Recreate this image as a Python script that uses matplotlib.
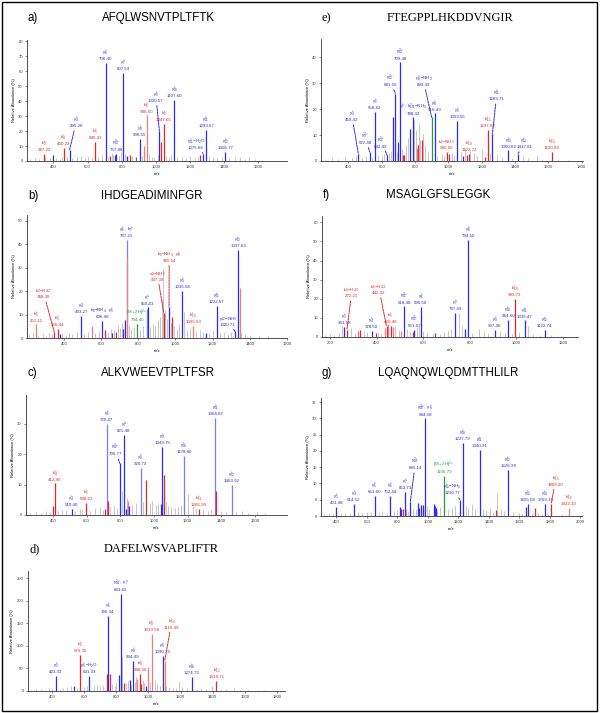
import matplotlib
matplotlib.use('Agg')
import matplotlib.pyplot as plt
from matplotlib.patches import Rectangle

plt.rcParams['font.family'] = ['Liberation Sans', 'DejaVu Sans']
plt.rcParams['mathtext.fontset'] = 'custom'
plt.rcParams['mathtext.rm'] = 'Liberation Sans'
plt.rcParams['mathtext.it'] = 'Liberation Sans'
plt.rcParams['mathtext.default'] = 'regular'

W, H = 600, 713

# ---------------- a) AFQLWSNVTPLTFTK
a_mz = [347.2, 400.0, 460.3, 495.3, 646.3, 706.4, 733.4, 760.0, 767.9, 807.5, 830.0, 847.4,
        883.0, 906.5, 932.0, 946.5, 1020.6, 1030.0, 1047.5, 1107.6, 1260.0, 1275.7, 1293.7, 1406.8]
a_int = [4.5, 3.8, 8.5, 7.6, 12.8, 65.6, 3.5, 4.0, 5.0, 59.0, 3.6, 4.2,
         2.7, 14.6, 10.0, 30.5, 20.0, 12.8, 25.0, 41.0, 4.3, 5.0, 21.0, 6.0]
a_ion = ['r', 'b', 'r', 'b', 'r', 'b', 'r', 'b', 'b', 'b', 'b', 'r',
         'g', 'b', 'R', 'R', 'b', 'r', 'r', 'b', 'r', 'b', 'b', 'b']
a_noise_mz = [265, 290, 318, 352, 378, 415, 438, 452, 480, 512, 540, 561, 583, 605, 628, 660, 684,
              722, 745, 752, 785, 795, 822, 858, 885, 920, 958, 975, 990, 1012, 1060, 1078, 1090,
              1125, 1150, 1175, 1200, 1228, 1247, 1310, 1335, 1360, 1385, 1430, 1460, 1490, 1520,
              1545, 1580, 1620]
a_noise_int = [1.5, 2.0, 1.2, 2.5, 1.8, 2.2, 1.6, 3.0, 2.4, 1.9, 2.6, 3.2, 2.1, 3.5, 2.8, 3.0, 4.2,
               2.7, 5.5, 4.0, 3.6, 6.0, 4.4, 3.1, 2.9, 3.4, 4.8, 3.0, 2.6, 3.9, 3.3, 2.5, 4.1,
               3.0, 2.7, 2.2, 3.5, 2.0, 2.8, 3.1, 2.4, 1.8, 2.6, 1.9, 2.2, 3.0, 1.6,
               2.4, 1.3, 1.0]
a_labels = {347.2: ('b_3^+', '347.22'), 460.3: ('b_4^+', '460.22'), 495.3: ('y_4^+', '495.28'),
            646.3: ('b_5^+', '646.33'), 706.4: ('y_6^+', '706.40'), 767.9: ('y_{13}^{2+}', '767.88'),
            807.5: ('y_7^+', '807.53'), 906.5: ('y_8^+', '906.55'), 946.5: ('b_8^+', '946.50'),
            1020.6: ('y_9^+', '1020.57'), 1047.5: ('b_9^+', '1047.65'), 1107.6: ('y_{10}^+', '1107.60'),
            1275.7: ('y_{11}^+{-}H_2O', '1275.66'), 1293.7: ('y_{11}^+', '1293.67'),
            1406.8: ('y_{12}^+', '1406.77')}
a_moved = {495.3: (535, 22), 1020.6: (1000, 38.8), 1275.7: (1235, 7.5)}
a_textcol = {}

# ---------------- b) IHDGEADIMINFGR
b_mz = [250.1, 348.2, 366.2, 378.0, 493.3, 552.2, 606.3, 623.3, 661.0, 680.0, 720.0, 728.0,
        737.4, 739.0, 794.4, 846.0, 850.5, 937.4, 965.5, 982.4, 1036.5, 1095.5, 1165.6, 1222.6,
        1320.6, 1337.6, 1345.0]
b_int = [5.8, 2.6, 4.0, 1.9, 9.3, 5.0, 7.3, 3.3, 2.1, 2.5, 4.0, 7.5,
         41.7, 34.3, 6.1, 12.5, 13.0, 10.7, 13.2, 9.0, 20.0, 5.3, 2.1, 13.5,
         2.8, 37.7, 21.5]
b_ion = ['R', 'r', 'r', 'b', 'b', 'R', 'b', 'r', 'b', 'r', 'b', 'b',
         'B', 'R', 'g', 'B', 'b', 'r', 'b', 'r', 'b', 'R', 'b', 'b',
         'b', 'b', 'R']
b_noise_mz = [215, 232, 262, 290, 305, 320, 335, 390, 410, 428, 445, 470, 510, 530, 570, 590, 640,
              652, 668, 690, 700, 712, 748, 760, 775, 812, 825, 862, 878, 892, 905, 918, 928, 934,
              945, 955, 975, 995, 1008, 1020, 1046, 1060, 1078, 1110, 1130, 1150, 1180, 1200, 1240,
              1260, 1285, 1300, 1355, 1375, 1400, 1450, 1500]
b_noise_int = [1.5, 2.0, 1.2, 1.8, 1.0, 2.2, 1.6, 2.0, 1.4, 2.3, 1.8, 2.5, 1.7, 2.6, 2.0, 3.1, 2.4,
               4.0, 3.2, 5.6, 4.4, 6.5, 5.5, 3.8, 4.6, 3.5, 5.0, 4.8, 6.0, 5.2, 7.5, 9.0, 16.0, 29.6,
               12.0, 8.0, 6.5, 5.2, 4.0, 5.8, 11.0, 3.5, 4.2, 2.8, 3.4, 2.6, 2.2, 3.0, 2.0,
               2.6, 1.8, 2.4, 2.0, 1.5, 1.2, 1.0, 0.8]
b_labels = {250.1: ('b_2^+', '251.11'), 348.2: ('b_3{-}H_2O', '348.30'), 366.2: ('b_3^+', '366.44'),
            493.3: ('y_4^+', '493.27'), 606.3: (r'b_6{-}NH_3,\ y_5^+', '606.46'),
            737.4: (r'y_6^+,\ b_7^+', '737.21'), 794.4: ('[M+2H]^{2+}', '794.40'),
            850.5: ('y_7^+', '850.43'), 937.4: ('a_9{-}NH_3', '937.39'),
            965.5: (r'b_9{-}NH_3,\ y_8^+', '965.54'), 1036.5: ('y_9^+', '1036.58'),
            1095.5: ('b_{10}^+', '1095.63'), 1222.6: ('y_{11}^+', '1222.57'),
            1320.6: ('y_{12}{-}NH_3', '1320.71'), 1337.6: ('y_{12}^+', '1337.63')}
b_moved = {348.2: (292, 16.5), 937.4: (904, 24), 965.5: (967, 32), 1320.6: (1282, 4.8)}
b_textcol = {965.5: 'r'}

# ---------------- c) ALKVWEEVTPLTFSR
c_mz = [400.0, 412.3, 510.3, 598.4, 710.0, 720.4, 727.4, 796.4, 821.5, 835.0, 845.0, 848.0,
        852.0, 920.5, 955.5, 1040.0, 1045.0, 1049.6, 1056.6, 1178.6, 1266.7, 1364.7, 1367.8, 1463.8]
c_int = [3.0, 10.4, 1.9, 4.0, 2.0, 30.0, 4.7, 17.0, 26.4, 2.0, 3.0, 4.5,
         3.0, 15.6, 11.5, 3.5, 3.5, 22.5, 13.2, 19.5, 1.9, 31.9, 8.0, 9.9]
c_ion = ['r', 'r', 'b', 'r', 'r', 'B', 'r', 'b', 'b', 'b', 'r', 'R',
         'b', 'B', 'r', 'b', 'b', 'b', 'r', 'B', 'r', 'B', 'r', 'B']
c_noise_mz = [265, 300, 330, 360, 385, 430, 455, 480, 530, 560, 575, 620, 650, 680, 700, 740, 760,
              780, 808, 840, 870, 895, 935, 975, 990, 1010, 1025, 1070, 1085, 1100, 1125, 1145,
              1160, 1205, 1230, 1250, 1290, 1320, 1340, 1362, 1400, 1430, 1490, 1520, 1560, 1610, 1660]
c_noise_int = [0.8, 1.0, 0.7, 1.2, 1.0, 1.3, 1.5, 1.8, 1.2, 2.0, 1.6, 1.4, 2.2, 2.5, 1.8, 2.6, 3.0,
               2.4, 8.0, 5.5, 3.4, 4.0, 4.2, 3.8, 4.5, 3.2, 3.6, 4.2, 3.0, 2.5, 2.2, 2.6,
               3.2, 7.0, 2.8, 2.0, 1.6, 1.4, 2.0, 22.0, 1.3, 1.0, 0.9, 1.2, 0.8, 1.0, 0.7]
c_labels = {412.3: ('b_4^+', '412.46'), 510.3: ('y_4^+', '510.40'), 598.4: ('b_5^+', '598.62'),
            720.4: ('y_6^+', '720.47'), 796.4: ('y_{13}^{2+}', '796.77'), 821.5: ('y_7^+', '821.48'),
            920.5: ('y_8^+', '920.73'), 1049.6: ('y_9^+', '1049.75'), 1178.6: ('y_{10}^+', '1178.80'),
            1266.7: ('b_{11}^+', '1266.90'), 1364.7: ('y_{11}^+', '1364.87'),
            1463.8: ('y_{12}^+', '1463.92')}
c_moved = {796.4: (770, 19.3)}
c_textcol = {}

# ---------------- d) DAFELWSVAPLIFTR
d_mz = [423.2, 536.3, 576.3, 631.4, 742.0, 746.5, 761.0, 817.5, 828.0, 849.0, 883.0, 904.0,
        931.0, 948.5, 955.0, 983.0, 998.0, 1019.5, 1088.0, 1101.0, 1271.0, 1423.0]
d_int = [34, 11, 80, 34, 38, 167, 38, 35.5, 215, 18.5, 24, 66.6,
         26.6, 38, 15, 11, 54, 126, 78, 66.6, 31, 22]
d_ion = ['b', 'b', 'r', 'b', 'r', 'b', 'r', 'b', 'b', 'r', 'b', 'b',
         'R', 'r', 'r', 'b', 'R', 'R', 'b', 'R', 'b', 'r']
d_noise_mz = [270, 300, 330, 355, 380, 400, 450, 470, 495, 515, 555, 600, 620, 660, 680, 700, 720,
              770, 790, 800, 836, 860, 870, 890, 915, 925, 965, 975, 1010, 1040, 1055, 1070, 1110,
              1130, 1150, 1170, 1190, 1210, 1240, 1300, 1330, 1360, 1395, 1450, 1480, 1530, 1570,
              1620, 1680, 1720]
d_noise_int = [3, 4, 5, 3, 6, 4, 5, 7, 8, 12, 6, 9, 12, 10, 13, 11, 14,
               16, 12, 20, 75, 18, 22, 14, 20, 30, 25, 18, 20, 24, 15, 12, 10,
               8, 6, 7, 22, 8, 6, 5, 7, 4, 10, 5, 4, 6, 3,
               2, 3, 2]
d_labels = {423.2: ('y_3^+', '423.33'), 576.3: ('b_5^+', '576.35'), 631.4: ('y_5^+{-}H_2O', '631.33'),
            746.5: ('y_6^+', '746.34'), 828.0: (r'y_{14}^{2+},\ y_7^+', '833.42'),
            904.0: ('y_8^+', '904.49'), 948.5: ('b_8^+', '948.50'), 1019.5: ('b_9^+', '1019.58'),
            1088.0: ('y_9^+', '1090.73'), 1101.0: ('b_{10}^+', '1116.49'),
            1271.0: ('y_{10}^+', '1274.73'), 1423.0: ('b_{12}^+', '1419.71')}
d_moved = {1101.0: (1143, 136)}
d_textcol = {}

# ---------------- e) FTEGPPLHKDDVNGIR
e_mz = [459.3, 527.3, 558.4, 632.3, 670.0, 681.0, 700.0, 709.4, 725.0, 735.0, 770.0, 788.4,
        810.0, 820.0, 840.0, 899.4, 916.5, 990.5, 1004.0, 1053.6, 1090.0, 1110.0, 1122.6,
        1220.0, 1237.6, 1263.7, 1360.7, 1417.8, 1620.8]
e_int = [2.8, 3.5, 19.0, 2.2, 16.8, 26.0, 7.3, 38.0, 2.5, 2.2, 12.5, 16.8,
         5.0, 6.0, 8.0, 16.8, 18.3, 3.5, 2.8, 15.4, 2.0, 2.5, 2.8,
         1.5, 11.9, 10.3, 4.1, 2.8, 3.5]
e_ion = ['b', 'b', 'b', 'b', 'b', 'b', 'b', 'b', 'r', 'r', 'b', 'b',
         'R', 'r', 'r', 'g', 'b', 'r', 'r', 'b', 'b', 'r', 'r',
         'r', 'r', 'b', 'b', 'b', 'r']
e_noise_mz = [260, 300, 340, 380, 420, 445, 480, 505, 540, 575, 600, 615, 645, 655, 690, 720, 745,
              760, 795, 805, 825, 832, 848, 860, 875, 930, 960, 975, 1020, 1035, 1075, 1100, 1130,
              1155, 1170, 1200, 1250, 1290, 1320, 1380, 1450, 1480, 1530, 1560, 1660, 1720]
e_noise_int = [0.8, 1.2, 0.9, 1.5, 1.1, 1.8, 1.3, 2.0, 1.6, 2.2, 1.8, 2.6, 3.0, 4.0, 3.5, 4.5, 6.0,
               9.0, 15.7, 12.0, 14.5, 8.0, 10.5, 6.0, 3.5, 2.0, 2.8, 1.8, 3.0, 2.4, 4.0, 5.0, 4.2,
               3.2, 2.0, 4.5, 3.0, 2.2, 1.6, 1.2, 1.8, 1.0, 2.4, 0.8, 0.6, 0.5]
e_labels = {459.3: ('y_4^+', '459.42'), 527.3: ('y_9^{2+}', '527.48'), 558.4: ('y_5^+', '558.42'),
            632.3: ('y_{11}^{2+}', '632.49'), 681.0: ('y_{12}^{2+}', '681.50'),
            709.4: ('y_{13}^{2+}', '709.48'), 788.4: (r'y_7^+,\ b_{14}^{2+}{-}NH_3', '788.32'),
            899.4: ('y_8^+{-}NH_3', '899.39'), 916.5: ('y_8^+', '916.49'),
            990.5: ('b_9{-}NH_3', '990.65'), 1053.6: ('y_9^+', '1053.55'),
            1122.6: ('b_{10}^+', '1122.72'), 1237.6: ('b_{11}^+', '1237.62'),
            1263.7: ('y_{11}^+', '1263.71'), 1360.7: ('y_{12}^+', '1360.62'),
            1417.8: ('y_{13}^+', '1417.81'), 1620.8: ('b_{15}^+', '1620.83')}
e_moved = {459.3: (420, 15), 527.3: (500, 6.2), 632.3: (595, 4.8), 681.0: (650, 28.5),
           899.4: (850, 28.5), 1263.7: (1290, 23), 1417.8: (1455, 4.6)}
e_textcol = {899.4: 'b'}

# ---------------- f) MSAGLGFSLEGGK
f_mz = [261.2, 272.1, 320.0, 329.0, 378.0, 395.0, 437.0, 442.2, 448.0, 460.2, 470.0, 505.0,
        518.3, 555.0, 561.8, 590.3, 650.0, 737.4, 781.0, 794.4, 907.5, 964.5, 993.5, 1035.5, 1122.6]
f_int = [5.2, 3.8, 3.0, 3.5, 3.0, 2.0, 4.7, 5.6, 7.0, 5.8, 5.0, 3.0,
         16.0, 2.5, 3.8, 15.7, 2.0, 12.5, 4.0, 51.0, 3.8, 9.0, 19.8, 8.7, 3.5]
f_ion = ['b', 'r', 'R', 'r', 'b', 'r', 'R', 'r', 'R', 'r', 'R', 'R',
         'b', 'r', 'b', 'b', 'r', 'b', 'b', 'b', 'b', 'b', 'r', 'b', 'b']
f_noise_mz = [180, 200, 215, 240, 250, 290, 305, 345, 360, 405, 420, 480, 495, 530, 545, 575, 580,
              600, 615, 640, 670, 690, 705, 720, 752, 765, 810, 840, 860, 880, 930, 950, 980, 1010,
              1050, 1070, 1100, 1150, 1190]
f_noise_int = [1.0, 1.5, 1.2, 2.0, 5.5, 4.5, 2.0, 3.0, 2.4, 2.8, 2.0, 6.0, 3.5, 4.0, 2.6, 5.0, 6.0,
               3.2, 2.0, 1.8, 1.5, 2.4, 3.0, 4.0, 12.5, 6.0, 2.0, 4.0, 3.0, 2.2, 3.0, 2.0, 1.8, 2.4,
               6.0, 1.6, 1.0, 0.8, 0.6]
f_labels = {261.2: ('y_3^+', '261.18'), 272.1: ('b_3{-}H_2O', '272.21'), 378.0: ('y_4^+', '378.50'),
            442.2: ('b_5{-}H_2O', '442.32'), 460.2: ('b_5^+', '460.48'), 518.3: ('y_{11}^{2+}', '518.48'),
            561.8: ('y_{12}^{2+}', '561.67'), 590.3: ('y_6^+', '590.50'), 737.4: ('y_7^+', '737.49'),
            794.4: ('y_8^+', '794.50'), 907.5: ('y_9^+', '907.46'), 964.5: ('y_{10}^+', '964.60'),
            993.5: ('b_{10}^+', '993.73'), 1035.5: ('y_{11}^+', '1035.47'),
            1122.6: ('y_{12}^+', '1122.74')}
f_moved = {272.1: (293, 20.3), 442.2: (410, 22)}
f_textcol = {}

# ---------------- g) LQAQNQWLQDMTTHLILR
g_mz = [401.3, 514.4, 651.4, 752.5, 815.0, 825.0, 840.0, 853.5, 860.0, 885.0, 935.0, 945.0,
        952.0, 965.0, 968.0, 984.6, 1040.0, 1048.0, 1052.0, 1106.6, 1210.6, 1227.7, 1340.7,
        1447.0, 1526.8, 1641.0, 1654.9, 1700.0, 1768.9, 1808.9, 1922.0]
g_int = [2.8, 3.8, 6.2, 6.1, 2.8, 2.2, 2.0, 7.4, 2.0, 4.3, 4.1, 2.5,
         3.5, 2.0, 3.3, 30.0, 3.6, 3.0, 2.4, 12.3, 5.0, 22.4, 20.3,
         1.8, 14.3, 2.8, 3.8, 2.5, 3.8, 3.8, 2.6]
g_ion = ['b', 'b', 'b', 'b', 'b', 'b', 'r', 'b', 'R', 'b', 'b', 'b',
         'b', 'r', 'b', 'b', 'b', 'b', 'b', 'g', 'b', 'b', 'b',
         'r', 'b', 'b', 'b', 'r', 'b', 'r', 'R']
g_noise_mz = [320, 350, 380, 430, 460, 490, 540, 570, 600, 625, 680, 700, 730, 780, 800, 870, 905,
              920, 995, 1010, 1060, 1080, 1130, 1160, 1180, 1250, 1265, 1290, 1310, 1360, 1380,
              1410, 1425, 1455, 1480, 1500, 1560, 1600, 1620, 1680, 1720, 1750, 1790, 1850, 1880, 1950]
g_noise_int = [0.5, 0.8, 0.6, 1.0, 0.8, 1.0, 1.2, 0.9, 1.3, 1.1, 1.2, 1.5, 1.0, 1.4, 1.8, 1.6, 2.5,
               2.0, 3.0, 2.2, 1.8, 2.8, 2.0, 2.5, 3.0, 3.2, 2.5, 3.6, 2.0, 2.2, 1.8,
               2.6, 1.2, 7.0, 2.0, 1.5, 1.2, 1.0, 0.8, 0.8, 1.0, 0.6, 0.5, 0.4, 0.5, 0.3]
g_labels = {401.3: ('y_3^+', '401.48'), 514.4: ('y_4^+', '514.52'), 651.4: ('y_5^+', '651.60'),
            752.5: ('y_6^+', '752.44'), 853.5: ('y_7^+', '853.73'), 885.0: ('y_{14}^{2+}', '885.14'),
            984.6: (r'y_{16}^{2+},\ y_8^+', '984.58'), 1106.6: ('[M+2H]^{2+}', '1106.79'),
            1210.6: ('y_{10}^+{-}NH_3', '1210.77'), 1227.7: ('y_{10}^+', '1227.79'),
            1340.7: ('y_{11}^+', '1340.91'), 1526.8: ('y_{12}^+', '1526.99'),
            1654.9: ('y_{13}^+', '1655.08'), 1768.9: ('y_{14}^+', '1769.15'),
            1808.9: ('b_{15}^+', '1809.20'), 1922.0: ('b_{16}^+', '1922.10')}
g_moved = {885.0: (918, 14.1), 1210.6: (1160, 6.4), 1808.9: (1836, 9)}
g_textcol = {}

COL = {'b': '#2b2bf2', 'B': '#7c7cff', 'r': '#e3262b', 'R': '#f27c7c', 'g': '#1f9e3a'}
TXT = {'b': '#2a2ad8', 'r': '#e0262b', 'g': '#1f9e3a'}
GREY = '#bdbdbd'

SANS = (['Liberation Sans', 'DejaVu Sans'], 8.3)
SERIF = (['Liberation Serif', 'DejaVu Serif'], 8.9)

# letter, sequence, font, axes box in px (left, top, right, bottom), title y, sequence x,
# xlim, ymax, xticks, yticks, data
panels = [
    ('a)', 'AFQLWSNVTPLTFTK', SANS, (27, 40, 287, 161), 18, 158, (246, 1767), 81,
     range(400, 1601, 200), range(0, 81, 10),
     (a_mz, a_int, a_ion, a_noise_mz, a_noise_int, a_labels, a_moved, a_textcol)),
    ('b)', 'IHDGEADIMINFGR', SANS, (27, 215, 287, 338), 196, 152, (202, 1600), 52.4,
     range(400, 1601, 200), range(0, 51, 10),
     (b_mz, b_int, b_ion, b_noise_mz, b_noise_int, b_labels, b_moved, b_textcol)),
    ('c)', 'ALKVWEEVTPLTFSR', SANS, (26, 395, 287, 515), 373, 158, (240, 1790), 39.5,
     range(400, 1601, 200), range(0, 31, 10),
     (c_mz, c_int, c_ion, c_noise_mz, c_noise_int, c_labels, c_moved, c_textcol)),
    ('d)', 'DAFELWSVAPLIFTR', SERIF, (28, 571, 285, 691), 549, 161, (250, 1850), 266,
     range(400, 1801, 200), range(0, 251, 50),
     (d_mz, d_int, d_ion, d_noise_mz, d_noise_int, d_labels, d_moved, d_textcol)),
    ('e)', 'FTEGPPLHKDDVNGIR', SERIF, (321, 39, 583, 161), 18, 450, (235, 1808), 47,
     range(400, 1801, 200), range(0, 41, 10),
     (e_mz, e_int, e_ion, e_noise_mz, e_noise_int, e_labels, e_moved, e_textcol)),
    ('f)', 'MSAGLGFSLEGGK', SANS, (322, 216, 578, 337), 195, 438, (165, 1265), 63.3,
     range(200, 1201, 200), range(0, 61, 10),
     (f_mz, f_int, f_ion, f_noise_mz, f_noise_int, f_labels, f_moved, f_textcol)),
    ('g)', 'LQAQNQWLQDMTTHLILR', SANS, (321, 398, 582, 516), 373, 448, (300, 2010), 36.3,
     range(400, 2001, 200), range(0, 36, 5),
     (g_mz, g_int, g_ion, g_noise_mz, g_noise_int, g_labels, g_moved, g_textcol)),
]

fig = plt.figure(figsize=(W / 100, H / 100), dpi=100)
fig.patches.append(Rectangle((2 / W, 2 / H), 595 / W, 709 / H, transform=fig.transFigure,
                             fill=False, lw=1.0, ec='black'))


def draw(ax, mz, inten, ion, noise_mz, noise_int, labels, moved, textcol, ymax):
    ax.vlines(noise_mz, 0, noise_int, colors=GREY, lw=0.6)
    for m, i, c in zip(mz, inten, ion):
        ax.vlines(m, 0, i, colors=COL[c], lw=0.9)
    gap = ymax * 0.015
    for m, (name, val) in labels.items():
        k = mz.index(m)
        c = TXT[textcol.get(m, ion[k].lower())]
        s = f'${name}$\n{val}'
        if m in moved:
            ax.annotate(s, xy=(m, inten[k]), xytext=moved[m], ha='center', va='bottom',
                        fontsize=3.2, color=c, linespacing=1.0,
                        arrowprops=dict(arrowstyle='-', ls=(0, (2, 1)), lw=0.7, color=c,
                                        shrinkA=0, shrinkB=0))
        else:
            ax.text(m, inten[k] + gap, s, ha='center', va='bottom', fontsize=3.2, color=c,
                    linespacing=1.0)


for letter, seq, (fam, fsize), (l, t, r, b), ty, sx, xlim, ymax, xt, yt, data in panels:
    ax = fig.add_axes([l / W, 1 - b / H, (r - l) / W, (b - t) / H])
    draw(ax, *data, ymax)
    ax.set_xlim(*xlim)
    ax.set_ylim(0, ymax)
    ax.set_xticks(list(xt))
    ax.set_yticks(list(yt))
    for s in ['top', 'right']:
        ax.spines[s].set_visible(False)
    for s in ['left', 'bottom']:
        ax.spines[s].set_linewidth(0.6)
        ax.spines[s].set_color('#333333')
    ax.tick_params(labelsize=3, length=1.5, width=0.4, pad=1.5, colors='#333333')
    ax.set_xlabel('m/z', fontsize=3, labelpad=2)
    ax.set_ylabel('Relative Abundance (%)', fontsize=3, labelpad=2)
    fig.text((l + 1) / W, 1 - ty / H, letter, fontsize=fsize, family=fam, va='center', ha='left')
    fig.text(sx / W, 1 - ty / H, seq, fontsize=fsize, family=fam, va='center', ha='center')

fig.savefig('out.png', dpi=100)
